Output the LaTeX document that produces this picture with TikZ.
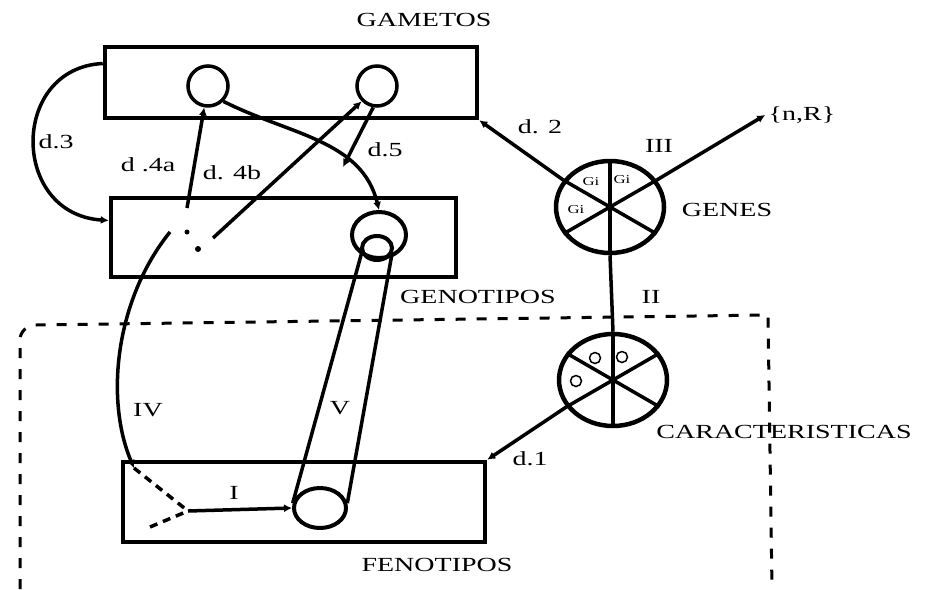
\documentclass[tikz,border=0pt]{standalone}
\usepackage{fontspec}
\setmainfont[FakeStretch=1.4]{Liberation Serif}
\usetikzlibrary{arrows.meta,shapes.geometric}

\begin{document}
\begin{tikzpicture}[
  x=1pt, y=-1pt,
  every node/.style={font=\fontsize{20}{22}\selectfont},
  caja/.style={draw, line width=4.5pt, inner sep=0pt},
  gameto/.style={draw, circle, line width=3.5pt, minimum size=40pt, inner sep=0pt},
  rueda/.style={draw, ellipse, line width=4.5pt, minimum width=108pt, minimum height=92pt, inner sep=0pt},
  anillo/.style={draw, ellipse, line width=4pt, inner sep=0pt},
  punto/.style={fill, circle, inner sep=0pt, minimum size=5pt},
  chico/.style={font=\fontsize{12}{14}\selectfont, inner sep=0pt},
  lin/.style={line width=3.5pt},
  arr/.style={line width=3.5pt, -{Latex[length=8pt,width=8pt]}},
  rra/.style={line width=3.5pt, {Latex[length=8pt,width=8pt]}-},
  marco/.style={line width=3pt, dash pattern=on 10pt off 11pt}
]
\useasboundingbox (0,0) rectangle (928,589);

%% Cajas
\node[caja, minimum width=372pt, minimum height=71pt] (gametos) at (291,82.5) {};
\node[caja, minimum width=345pt, minimum height=79pt] (genotipos) at (283.5,237.5) {};
\node[caja, minimum width=362pt, minimum height=80pt] (fenotipos) at (304,502) {};
\node (tgam) at (424,20) {GAMETOS};
\node (tgen) at (478,297) {GENOTIPOS};
\node (tfen) at (437,565) {FENOTIPOS};

%% Gametos
\node[gameto] (gi) at (208,86) {};
\node[gameto] (gd) at (377,86) {};

%% Ruedas
\node[rueda] (genes) at (610,207) {};
\node[rueda] (carac) at (613,380) {};
\foreach \r in {genes,carac} {
  \draw[lin] (\r.north) -- (\r.south);
  \draw[lin] (\r.150) -- (\r.330);
  \draw[lin] (\r.30) -- (\r.210);
}
\node[chico] (g1) at (591,182) {Gi};
\node[chico] (g2) at (622,180) {Gi};
\node[chico] (g3) at (576,210) {Gi};
\node[draw, circle, line width=1.5pt, minimum size=11pt, inner sep=0pt] (c1) at (576,381) {};
\node[draw, circle, line width=1.5pt, minimum size=11pt, inner sep=0pt] (c2) at (595,358) {};
\node[draw, circle, line width=1.5pt, minimum size=11pt, inner sep=0pt] (c3) at (622,357) {};
\node (tgenes) at (727,210) {GENES};
\node (tcar) at (784,432) {CARACTERISTICAS};
\node (nr) at (802,115) {\{n,R\}};

%% Tubo V
\node[anillo, minimum width=52pt, minimum height=40pt] (tubo) at (320,508) {};
\node[anillo, minimum width=54pt, minimum height=46pt] (aro) at (379,235) {};
\node[anillo, minimum width=30pt, minimum height=24pt] (boca) at (377,248) {};
\draw[lin] (boca.200) -- (tubo.170);
\draw[lin] (boca.-25) -- (tubo.10);

%% Conexiones gametos - genotipos
\coordinate (a4) at (187,208);
\coordinate (b4) at (213,238);
\coordinate (c5) at (343,167);
\draw[rra] (gi.-100) -- (a4);
\draw[rra] (gd.225) -- (b4);
\draw[arr] (gd.-100) -- (c5);
\draw[arr] (gi.south east) .. controls (290,135) and (362,140) .. (aro.north);
\node[punto] (p1) at (187,232) {};
\node[punto, minimum size=6pt] (p2) at (198,249) {};
\draw[arr] ([yshift=19pt]gametos.west) .. controls (10,68) and (10,214) .. ([yshift=17pt]genotipos.west);

%% Genes
\draw[rra] (gametos.south east) -- (genes.150);
\draw[arr] (genes.30) -- (nr.west);
\draw[lin] (genes.south) -- (carac.north);
\draw[rra] (fenotipos.north east) -- (carac.210);

%% IV y I
\coordinate (iv0) at (170,232);
\coordinate (iv1) at (134,468);
\coordinate (y0) at (150,527);
\coordinate (cruce) at (188,511);
\draw[arr] (iv0) .. controls (115,300) and (105,400) .. (iv1);
\draw[lin, dash pattern=on 8pt off 6pt] (iv1) -- (cruce);
\draw[lin, dash pattern=on 8pt off 6pt] (y0) -- (cruce);
\draw[arr] (cruce) -- (tubo.west);

%% Marco
\draw[marco] (20,589) -- (20,340) to[out=90,in=180] (36,325) -- (768,315) -- (772,589);

%% Rotulos
\node (ld3) at (56,142) {d.3};
\node (ld4a) at (148,165) {d .4a};
\node (ld4b) at (232,173) {d. 4b};
\node (ld5) at (385,150) {d.5};
\node (ld2) at (540,127) {d. 2};
\node (liii) at (659,146) {III};
\node (lii) at (651,297) {II};
\node (ld1) at (530,459) {d.1};
\node (liv) at (148,410) {IV};
\node (lv) at (340,408) {V};
\node (li) at (234,493) {I};

\end{tikzpicture}
\end{document}
